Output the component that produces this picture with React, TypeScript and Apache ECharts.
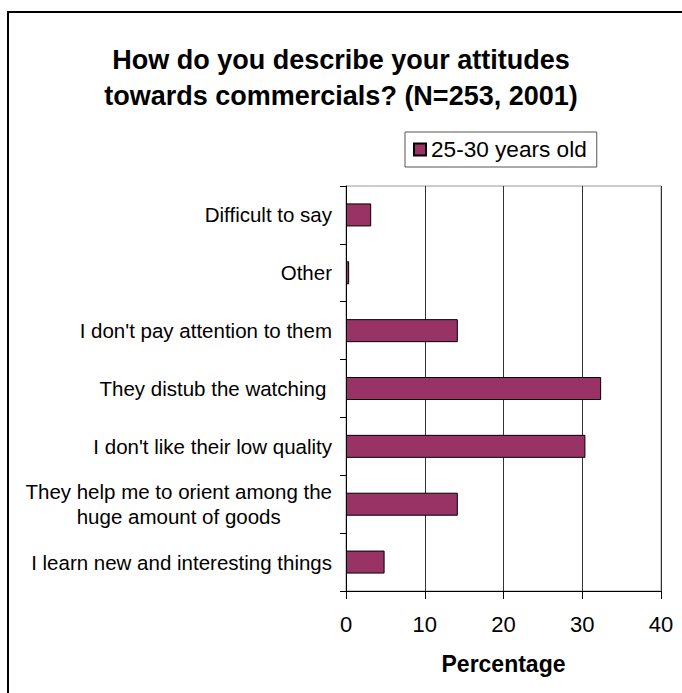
import React, { useEffect, useRef } from "react";
import * as echarts from "echarts";

const categories = [
  "Difficult to say",
  "Other",
  "I don't pay attention to them",
  "They distub the watching ",
  "I don't like their low quality",
  "They help me to orient among the\nhuge amount of goods",
  "I learn new and interesting things",
];
const seriesName = "25-30 years old";
const values = [3.2, 0.4, 14.2, 32.4, 30.4, 14.2, 4.9];
const xTicks = { min: 0, max: 40, interval: 10 };
const titleText = "How do you describe your attitudes\ntowards commercials? (N=253, 2001)";
const xAxisName = "Percentage";

const FONT = "'Liberation Sans', Arial, Helvetica, sans-serif";

export default function App() {
  const ref = useRef<HTMLDivElement>(null);
  useEffect(() => {
    document.body.style.margin = "0";
    document.body.style.overflow = "hidden";
    if (!ref.current) return;
    const chart = echarts.init(ref.current, null, { renderer: "svg" });
    chart.setOption({
      animation: false,
      backgroundColor: "#ffffff",
      textStyle: { fontFamily: FONT, color: "#000" },
      title: {
        text: titleText,
        left: "center",
        top: 42,
        padding: 0,
        textStyle: {
          fontFamily: FONT,
          fontWeight: "bold",
          fontSize: 27,
          lineHeight: 36,
          color: "#000",
        },
      },
      graphic: [
        {
          type: "line",
          shape: { x1: 8, y1: 693, x2: 8, y2: 11 },
          style: { stroke: "#000", lineWidth: 2 },
          silent: true,
        },
        {
          type: "line",
          shape: { x1: 7, y1: 12, x2: 682, y2: 12 },
          style: { stroke: "#000", lineWidth: 2 },
          silent: true,
        },
      ],
      legend: {
        left: 405,
        top: 132,
        padding: [6, 10, 6, 8],
        borderColor: "#555",
        borderWidth: 1,
        itemWidth: 12,
        itemHeight: 12,
        icon: "rect",
        textStyle: { fontFamily: FONT, fontSize: 22.6, color: "#000" },
        data: [seriesName],
      },
      grid: {
        left: 346,
        right: 21,
        top: 186,
        bottom: 102,
        show: true,
        borderColor: "#999",
        borderWidth: 1,
        containLabel: false,
      },
      xAxis: {
        type: "value",
        min: xTicks.min,
        max: xTicks.max,
        interval: xTicks.interval,
        name: xAxisName,
        nameLocation: "middle",
        nameGap: 61,
        nameTextStyle: { fontFamily: FONT, fontWeight: "bold", fontSize: 23, color: "#000" },
        axisLine: { show: true, lineStyle: { color: "#000", width: 1 } },
        axisTick: { show: true, length: 8, inside: false, lineStyle: { color: "#000" } },
        axisLabel: { fontFamily: FONT, fontSize: 22, color: "#000", margin: 22 },
        splitLine: { show: true, lineStyle: { color: "#333", width: 1 } },
      },
      yAxis: {
        type: "category",
        inverse: true,
        data: categories,
        axisLine: { show: true, lineStyle: { color: "#000", width: 1 } },
        axisTick: { show: true, length: 6, inside: false, alignWithLabel: false, lineStyle: { color: "#000" } },
        splitLine: { show: false },
        axisLabel: {
          margin: 14,
          fontFamily: FONT,
          fontSize: 20.5,
          color: "#000",
          formatter: (v: string) => {
            if (v.indexOf("\n") >= 0) {
              const parts = v.split("\n");
              return `{a|${parts[0]}}\n{b|${parts[1]}}`;
            }
            return v;
          },
          rich: {
            a: { fontFamily: FONT, fontSize: 20.5, color: "#000", lineHeight: 25 },
            b: { fontFamily: FONT, fontSize: 20.5, color: "#000", lineHeight: 25, align: "center" },
          },
        },
      },
      series: [
        {
          name: seriesName,
          type: "bar",
          data: values,
          barCategoryGap: "60%",
          barWidth: 23,
          itemStyle: { color: "#993366", borderColor: "#000", borderWidth: 1 },
        },
      ],
    });
    return () => chart.dispose();
  }, []);
  return <div ref={ref} style={{ width: 682, height: 693 }} />;
}
